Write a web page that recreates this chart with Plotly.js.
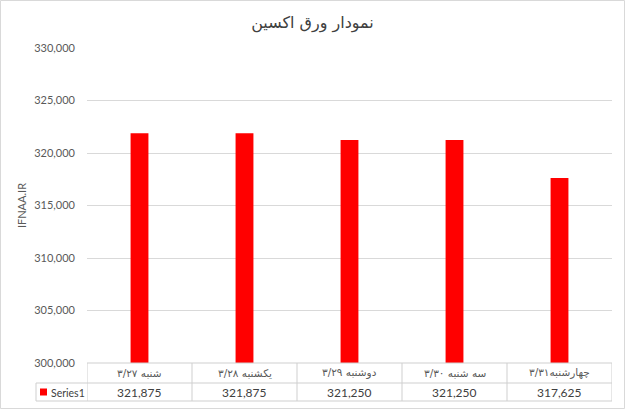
<!DOCTYPE html>
<html>
<head>
<meta charset="utf-8">
<script src="https://cdn.plot.ly/plotly-3.0.1.min.js"></script>
<style>html,body{margin:0;padding:0;background:#fff;}#chart{width:625px;height:409px;}</style>
</head>
<body>
<div id="chart"></div>
<script>
// ---- data ----
var categories = ["شنبه ۳/۲۷", "یکشنبه ۳/۲۸", "دوشنبه ۳/۲۹", "سه شنبه ۳/۳۰", "چهارشنبه۳/۳۱"];
var values = [321875, 321875, 321250, 321250, 317625];
var seriesName = "Series1";
var chartTitle = "نمودار ورق اکسین";
var yTitle = "IFNAA.IR";

// ---- layout geometry ----
var W = 625, H = 409;
var L = 87, R = 612, T = 48, B = 363;
function px(x){ return (x - L) / (R - L); }
function py(y){ return (B - y) / (B - T); }

var gridCol = "#d9d9d9";
var tableCol = "#cfcfcf";
var textCol = "#404040";
var fontFam = "Lato, 'DejaVu Sans', sans-serif";
var faFam = "'DejaVu Sans', sans-serif";

var shapes = [];
function line(xref, x0, x1, y0, y1){
  shapes.push({type:"line", xref:xref, yref:"paper", x0:x0, x1:x1, y0:y0, y1:y1,
               line:{color:tableCol, width:1}, layer:"above"});
}
// table horizontals
line("paper", px(L), px(R), py(363), py(363));
line("paper", px(36), px(R), py(383), py(383));
line("paper", px(36), px(R), py(401), py(401));
// table verticals (category boundaries through the x axis)
for (var i = 0; i <= categories.length; i++) {
  line("x", i - 0.5, i - 0.5, py(363), py(401));
}
line("paper", px(36), px(36), py(383), py(401));
// legend key
shapes.push({type:"rect", xref:"paper", yref:"paper", x0:px(40), x1:px(47), y0:py(388.5), y1:py(395.5),
             fillcolor:"#ff0000", line:{width:0}});
// outer chart border
shapes.push({type:"rect", xref:"paper", yref:"paper", x0:px(0.5), x1:px(624.5), y0:py(0.5), y1:py(408.5),
             line:{color:"#d9d9d9", width:1}, fillcolor:"rgba(0,0,0,0)"});

var annotations = [];
categories.forEach(function(c, i){
  annotations.push({xref:"x", yref:"paper", x:i, y:py(373), text:c, showarrow:false,
    xanchor:"center", yanchor:"middle", font:{family:faFam, size:10.5, color:"#595959"}});
  annotations.push({xref:"x", yref:"paper", x:i, y:py(392.5), text:values[i].toLocaleString("en-US"), showarrow:false,
    xanchor:"center", yanchor:"middle", font:{family:fontFam, size:12, color:textCol}});
});
annotations.push({xref:"paper", yref:"paper", x:px(49), y:py(392.5), text:seriesName, showarrow:false,
  xanchor:"left", yanchor:"middle", font:{family:fontFam, size:10.5, color:textCol}});

var trace = {
  type:"bar", x:categories, y:values, name:seriesName,
  marker:{color:"#ff0000"}, width:0.17, hoverinfo:"none"
};

var layout = {
  width:W, height:H,
  margin:{l:L, r:W-R, t:T, b:H-B, pad:0},
  paper_bgcolor:"#ffffff", plot_bgcolor:"#ffffff",
  showlegend:false,
  title:{text:chartTitle, x:0.5, xanchor:"center", y:1-22/H, yanchor:"middle", yref:"container",
         font:{family:faFam, size:16, color:"#404040"}},
  xaxis:{type:"category", range:[-0.5, categories.length-0.5], showticklabels:false, showgrid:false,
         zeroline:false, showline:false, ticks:"", fixedrange:true},
  yaxis:{range:[300000, 330000], dtick:5000, tick0:300000, tickformat:",d", showgrid:true, gridcolor:gridCol,
         gridwidth:1, zeroline:false, showline:false, ticks:"", ticklabelstandoff:11,
         tickfont:{family:fontFam, size:11, color:"#595959"},
         title:{text:yTitle, standoff:5, font:{family:fontFam, size:11, color:"#595959"}}, fixedrange:true},
  shapes:shapes, annotations:annotations,
  bargap:0.8
};

Plotly.newPlot("chart", [trace], layout, {staticPlot:true, displayModeBar:false});
</script>
</body>
</html>
